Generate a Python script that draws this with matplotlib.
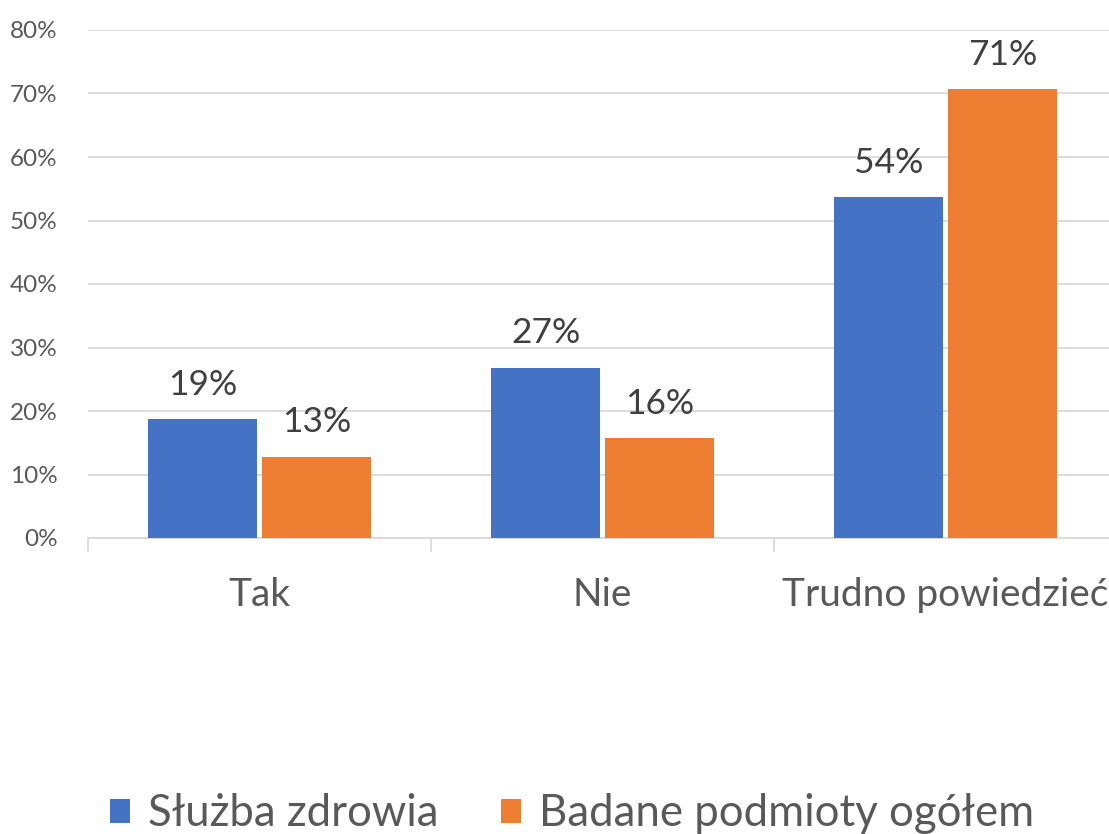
import matplotlib
matplotlib.use("Agg")
import matplotlib.pyplot as plt
import numpy as np

categories = ["Tak", "Nie", "Trudno powiedzieć"]
series_names = ["Służba zdrowia", "Badane podmioty ogółem"]
sluzba = [18.7, 26.8, 53.7]
ogolem = [12.8, 15.7, 70.7]
labels_sluzba = ["19%", "27%", "54%"]
labels_ogolem = ["13%", "16%", "71%"]
yticks = [0, 10, 20, 30, 40, 50, 60, 70, 80]
ytick_labels = ["0%", "10%", "20%", "30%", "40%", "50%", "60%", "70%", "80%"]

plt.rcParams['font.family'] = ['Lato', 'DejaVu Sans']

W, H = 1109, 834
fig = plt.figure(figsize=(W/100, H/100), dpi=100)
ax = fig.add_axes([88/W, 1-538/H, 1029/W, 508/H])

x = np.arange(len(categories))
bw = 0.32
off = 0.166
blue = "#4472C4"
orange = "#ED7D31"
b1 = ax.bar(x - off, sluzba, bw, color=blue, label=series_names[0], zorder=3)
b2 = ax.bar(x + off, ogolem, bw, color=orange, label=series_names[1], zorder=3)

for rect, lab in zip(b1, labels_sluzba):
    ax.text(rect.get_x() + rect.get_width()/2, rect.get_height() + 2.9, lab,
            ha="center", va="bottom", fontsize=25.5, color="#404040")
for rect, lab in zip(b2, labels_ogolem):
    ax.text(rect.get_x() + rect.get_width()/2, rect.get_height() + 2.9, lab,
            ha="center", va="bottom", fontsize=25.5, color="#404040")

ax.set_xlim(-0.5, 2.5)
ax.set_ylim(0, 80)
ax.set_yticks(yticks)
ax.set_yticklabels(ytick_labels, fontsize=17.5, color="#595959")
ax.yaxis.grid(True, color="#D9D9D9", linewidth=1.3, zorder=0)
ax.tick_params(axis="y", length=0, pad=22)

ax.set_xticks(x)
ax.set_xticklabels(categories, fontsize=28, color="#595959")
ax.tick_params(axis="x", length=0, pad=28)
ax.set_xticks([-0.5, 0.5, 1.5, 2.5], minor=True)
ax.tick_params(axis="x", which="minor", length=10, color="#D9D9D9", width=1.3)

for s in ["top", "right", "left"]:
    ax.spines[s].set_visible(False)
ax.spines["bottom"].set_color("#D9D9D9")
ax.spines["bottom"].set_linewidth(1.3)

leg = fig.legend(handles=[b1, b2], labels=series_names, loc="center",
                 bbox_to_anchor=(572/W, 1-814/H), ncol=2, frameon=False,
                 fontsize=31.5, handlelength=0.46, handleheight=0.46,
                 handletextpad=0.41, columnspacing=1.44, labelcolor="#595959")

fig.savefig("out.png", dpi=100)
